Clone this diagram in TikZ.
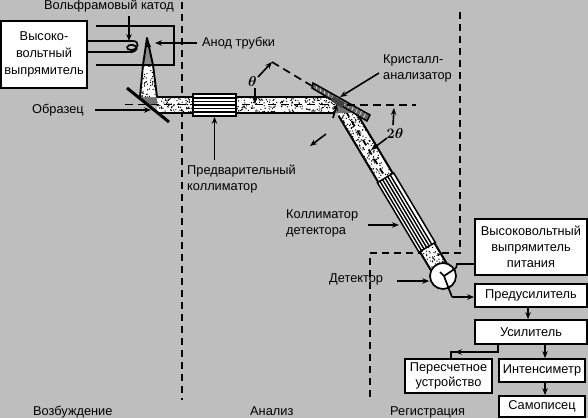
\documentclass[tikz,border=0pt]{standalone}
\usepackage{amsmath,amssymb}
\usepackage{fontspec}
\setmainfont{Liberation Sans}
\usetikzlibrary{arrows.meta,calc}
\definecolor{bg}{HTML}{BEBEBE}
\newcommand{\grain}[4]{% x0 y0 w h in current coords
  \foreach \gi in {1,...,#4}{%
    \pgfmathsetmacro{\gx}{#1+rnd*#3}%
    \pgfmathsetmacro{\gy}{#2+rnd*\gh}%
    \fill[black] (\gx,\gy) circle[radius=0.7pt];}}
\tikzset{
  box/.style={draw=black,line width=1.7pt,fill=white,align=center,inner sep=0pt,font=\fontsize{12.8}{16}\selectfont},
  lbl/.style={inner sep=0pt,font=\fontsize{12.8}{16}\selectfont,align=left},
  arr/.style={line width=1.6pt,-{Stealth[length=7pt,width=5.5pt]}},
  conn/.style={line width=1.7pt},
  sep/.style={line width=1.9pt,dash pattern=on 7pt off 5pt},
  centerdash/.style={line width=1.7pt,dash pattern=on 8pt off 5pt}
}
\begin{document}
\begin{tikzpicture}[x=1pt,y=-1pt]
\pgfmathsetseed{4242}
\def\gh{16}
\useasboundingbox (0,0) rectangle (588,418);
\fill[bg] (0,0) rectangle (588,418);

% separators
\coordinate (s1a) at (182,2); \coordinate (s1b) at (182,400);
\coordinate (s2a) at (460,12); \coordinate (s2b) at (460,253);
\coordinate (s2c) at (370,253); \coordinate (s2d) at (370,398);
\draw[sep] (s1a) -- (s1b);
\draw[sep] (s2a) -- (s2b) -- (s2c) -- (s2d);

% horizontal beam
\fill[white] (157,97) rectangle (335,113);
\grain{157}{97}{178}{380}
\draw[line width=2.4pt] (157,97) -- (335,97) (157,113) -- (335,113);

% diffracted beam (s along the axis, t across)
\begin{scope}[shift={(345,110)},x={(0.513pt,-0.858pt)},y={(0.858pt,0.513pt)}]
  \fill[white] (0,-8.5) -- (186,-8.5) -- (186,8.5) -- (0,8.5) -- cycle;
  \def\gh{17}
  \grain{0}{-8.5}{80}{170}
  \grain{160}{-8.5}{24}{50}
  \draw[line width=2pt] (2,-8.5) -- (186,-8.5) (2,8.5) -- (186,8.5);
  \draw[centerdash,dash pattern=on 6pt off 5pt] (2,0) -- (79,0);
  \draw[line width=1.5pt,fill=white] (79,-9.5) -- (160,-9.5) -- (160,9.5) -- (79,9.5) -- cycle;
  \foreach \t in {-6.5,-3.5,-0.5,2.5,5.5}{\draw[line width=1.4pt] (79,\t) -- (160,\t);}
\end{scope}

% dark focus spots
\fill[black!55] (337,103) -- (352,113) -- (335,113) -- cycle;
\fill[black!55] (140,97) -- (157,97) -- (157,105) -- (150,105) -- cycle;

% anode
\fill[white] (142,65) -- (153,65) -- (157,97) -- (140,97) -- cycle;
\begin{scope}
  \clip (142,65) -- (153,65) -- (157,97) -- (140,97) -- cycle;
  \def\gh{32}
  \grain{139}{65}{18}{80}
\end{scope}
\fill[black!45] (147,38) -- (153,65) -- (143,65) -- cycle;
\draw[line width=1.9pt,line join=round] (140,97) -- (143,65) -- (147,38) -- (153,65) -- (157,97);
\fill[black] (147,38) -- (151,47) -- (146,47) -- cycle;

% high-voltage supply and tube body
\node[box,minimum width=86pt,minimum height=67pt,font=\fontsize{12.8}{17}\selectfont] (hv) at (44,54.5) {Высоко-\\вольтный\\выпрямитель};
\draw[line width=2.8pt] (96,26) -- (174,26) -- (174,65) -- (96,65);
\coordinate (c1) at (133,41); \coordinate (c2) at (133,52);
\draw[conn] (hv.east |- c1) -- (c1);
\draw[conn] (hv.east |- c2) -- (c2);
\draw[line width=1.7pt] (133,41) .. controls (140,41) and (139,50) .. (131,50) .. controls (125,50) and (126,44) .. (133,45) .. controls (139,46) and (138,52) .. (130,52);
\node[lbl] (katod) at (109,6) {Вольфрамовый катод};
\draw[arr] (129,16) -- (129,41);
\node[lbl,anchor=west] (anod) at (202,43) {Анод трубки};
\draw[arr] (197,43) -- (155,43);

% sample
\draw[line width=3pt] (127,88) -- (169,122);
\draw[centerdash] (125,104.5) -- (335,104.5);
\node[lbl,anchor=west] (obr) at (32,110) {Образец};
\draw[arr] (95,110) -- (151,110);

% primary collimator
\node[draw=black,line width=1.7pt,fill=white,minimum width=43pt,minimum height=22pt,inner sep=0pt] (pc) at (214.5,105) {};
\foreach \y in {98,101.5,105,108.5,112}{\draw[line width=1.5pt] (pc.west |- 0,\y) -- (pc.east |- 0,\y);}
\node[lbl,anchor=north west] (pcl) at (187,165) {Предварительный\\коллиматор};
\draw[arr] (214.5,160) -- (pc.south);

% crystal
\fill[black!60] (313,83) -- (370,115) -- (367,121) -- (312,88) -- cycle;
\foreach \i in {0,...,14}{
  \draw[white,line width=.5pt] ($(313,83)!\i/14!(370,115)$) -- ($(312,88)!\i/14!(367,121)$);}
\draw[line width=1.5pt] (313,83) -- (370,115) -- (367,121) -- (312,88) -- cycle;
\fill[black!75] (333,96) -- (345,103) -- (342,108) -- (331,101) -- cycle;

% angles
\coordinate (apex) at (272,62);
\draw[centerdash] (apex) -- (312,86);
\draw[centerdash] (347,105) -- (416,105);
\draw[arr] (258,77) -- (apex);
\node[inner sep=0pt,font=\fontsize{15}{15}\selectfont] (th) at (252.5,81) {$\boldsymbol\theta$};
\draw[arr] (255,88) -- (255,104);
\node[inner sep=0pt,font=\fontsize{15}{15}\selectfont] (tth) at (395,133) {$\boldsymbol{2\theta}$};
\draw[arr] (393,125) -- (394,108);
\draw[arr] (387,138) -- (371,150);
\draw[arr] (326,134) -- (310,146);
\draw[arr] (333,118) -- (337,104);

\node[lbl,anchor=north west] (krl) at (383,54) {Кристалл-\\анализатор};
\draw[arr] (379,73) -- (340,97);

\node[lbl,anchor=north west] (cdl) at (286,209) {Коллиматор\\детектора};
\draw[arr] (368,225) -- (399,225);

% detector
\node[circle,draw=black,line width=1.7pt,fill=white,minimum size=26pt,inner sep=0pt] (det) at (443,276) {};
\draw[line width=1.7pt] (440,272) -- (444,276) -- (452,297);
\draw[line width=1.7pt] (444,276) -- (456,268);
\node[lbl,anchor=west] (detl) at (329,279) {Детектор};
\draw[arr] (397,281) -- (det.west |- 0,281);

% electronics
\node[box,minimum width=112pt,minimum height=56pt] (hvp) at (531,247) {Высоковольтный\\выпрямитель\\питания};
\node[box,minimum width=112pt,minimum height=23pt] (pre) at (531,295.5) {Предусилитель};
\node[box,minimum width=112pt,minimum height=24pt] (amp) at (531,332) {Усилитель};
\node[box,minimum width=87pt,minimum height=34pt,font=\fontsize{12.8}{14.5}\selectfont] (cnt) at (448.5,376) {Пересчетное\\устройство};
\node[box,minimum width=86pt,minimum height=23pt] (int) at (542,370.5) {Интенсиметр};
\node[box,minimum width=86pt,minimum height=21pt] (rec) at (542,406.5) {Самописец};

\draw[conn] (hvp.west |- 0,264) -- (457,264) -- (456,268);
\draw[arr] (452,297) -- (pre.west |- 0,297);
\draw[arr] ([xshift=-3pt]pre.south) -- ([xshift=-3pt]amp.north);
\draw[arr] (545,344) -- (int.north -| 545,0);
\draw[arr] (int.south -| 545,0) -- (rec.north -| 545,0);
\coordinate (t1) at (498,352); \coordinate (t2) at (451,352);
\draw[conn] (amp.south -| t1) -- (t1) -- (t2) -- (cnt.north -| t2);
\draw[arr] (t1) -- (455,352);

% stage labels
\node[lbl,anchor=base west] (l1) at (33,415) {Возбуждение};
\node[lbl,anchor=base west] (l2) at (250,415) {Анализ};
\node[lbl,anchor=base west] (l3) at (390,415) {Регистрация};
\end{tikzpicture}
\end{document}
